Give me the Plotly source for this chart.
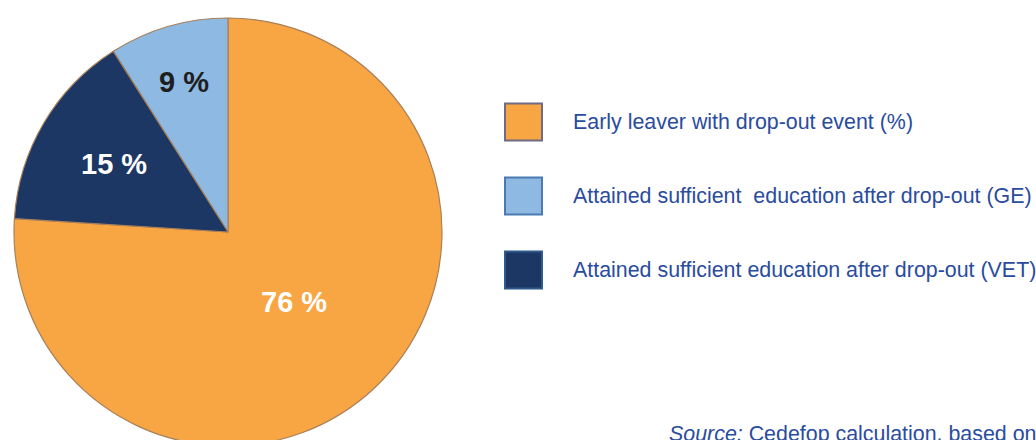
import math
import plotly.graph_objects as go

labels = [
    "Early leaver with drop-out event (%)",
    "Attained sufficient  education after drop-out (GE)",
    "Attained sufficient education after drop-out (VET)",
]
values = [76, 9, 15]
slice_text = ["76 %", "9 %", "15 %"]
colors = ["#F8A543", "#8DB9E2", "#1C3764"]
text_colors = ["#FFFFFF", "#1E1E1E", "#FFFFFF"]
legend_borders = ["#6F6B82", "#4C7BB3", "#2E5A8C"]
source_text = "<i>Source:</i> Cedefop calculation, based on"

# figure is taller than the window so the pie can run past the bottom edge
W, H = 1036, 452
text_blue = "#2A4C9E"
font_family = "Liberation Sans, Arial, sans-serif"


def px_x(x):
    return x / W


def px_y(y):
    return 1 - y / H


# pie geometry (window pixels)
cx, cy, r = 228, 232, 214
dom_x = [px_x(cx - r), px_x(cx + r)]
dom_y = [px_y(cy + r), px_y(cy - r)]
label_radius = [0.45, 0.73, 0.62]  # fraction of radius for each slice label

fig = go.Figure()
fig.add_trace(go.Pie(
    labels=labels,
    values=values,
    textinfo="none",
    marker=dict(colors=colors, line=dict(color="#A9805A", width=1.2)),
    sort=False,
    direction="counterclockwise",
    rotation=0,
    domain=dict(x=dom_x, y=dom_y),
    showlegend=False,
    hoverinfo="label+percent",
))

# slice labels at each slice's mid-angle (first slice clockwise from 12 o'clock,
# following slices counter-clockwise from 12 o'clock)
total = sum(values)
mids = [values[0] / total * 180.0]
acc = 0.0
for v in values[1:]:
    mids.append(360.0 - (acc + v / 2) / total * 360.0)
    acc += v
for txt, tc, ang, rf in zip(slice_text, text_colors, mids, label_radius):
    a = math.radians(ang)
    lx = cx + rf * r * math.sin(a)
    ly = cy - rf * r * math.cos(a)
    fig.add_annotation(
        x=px_x(lx), y=px_y(ly), xref="paper", yref="paper",
        text=txt, showarrow=False, xanchor="center", yanchor="middle",
        font=dict(size=29, color=tc, family=font_family, weight="bold"),
    )

# custom legend (large squares)
sq = 37
sq_x0 = 505
text_x = 571
row_y = [122, 196, 270]
for lab, col, bcol, yc in zip(labels, colors, legend_borders, row_y):
    fig.add_shape(
        type="rect", xref="paper", yref="paper",
        x0=px_x(sq_x0), x1=px_x(sq_x0 + sq),
        y0=px_y(yc + sq / 2), y1=px_y(yc - sq / 2),
        fillcolor=col, line=dict(color=bcol, width=2),
    )
    fig.add_annotation(
        x=px_x(text_x), y=px_y(yc), xref="paper", yref="paper",
        text=lab, showarrow=False, xanchor="left", yanchor="middle",
        font=dict(size=21.4, color=text_blue, family=font_family),
    )

fig.add_annotation(
    x=px_x(667), y=px_y(420), xref="paper", yref="paper",
    text=source_text, showarrow=False, xanchor="left", yanchor="top",
    font=dict(size=21.4, color=text_blue, family=font_family),
)

fig.update_layout(
    width=W, height=H,
    margin=dict(l=0, r=0, t=0, b=0),
    paper_bgcolor="white",
    plot_bgcolor="white",
)

fig.write_html(
    "out.html",
    config={"displayModeBar": False},
    post_script=(
        "document.body.style.margin='0';"
        "document.body.style.overflow='hidden';"
        "document.documentElement.style.overflow='hidden';"
    ),
)
